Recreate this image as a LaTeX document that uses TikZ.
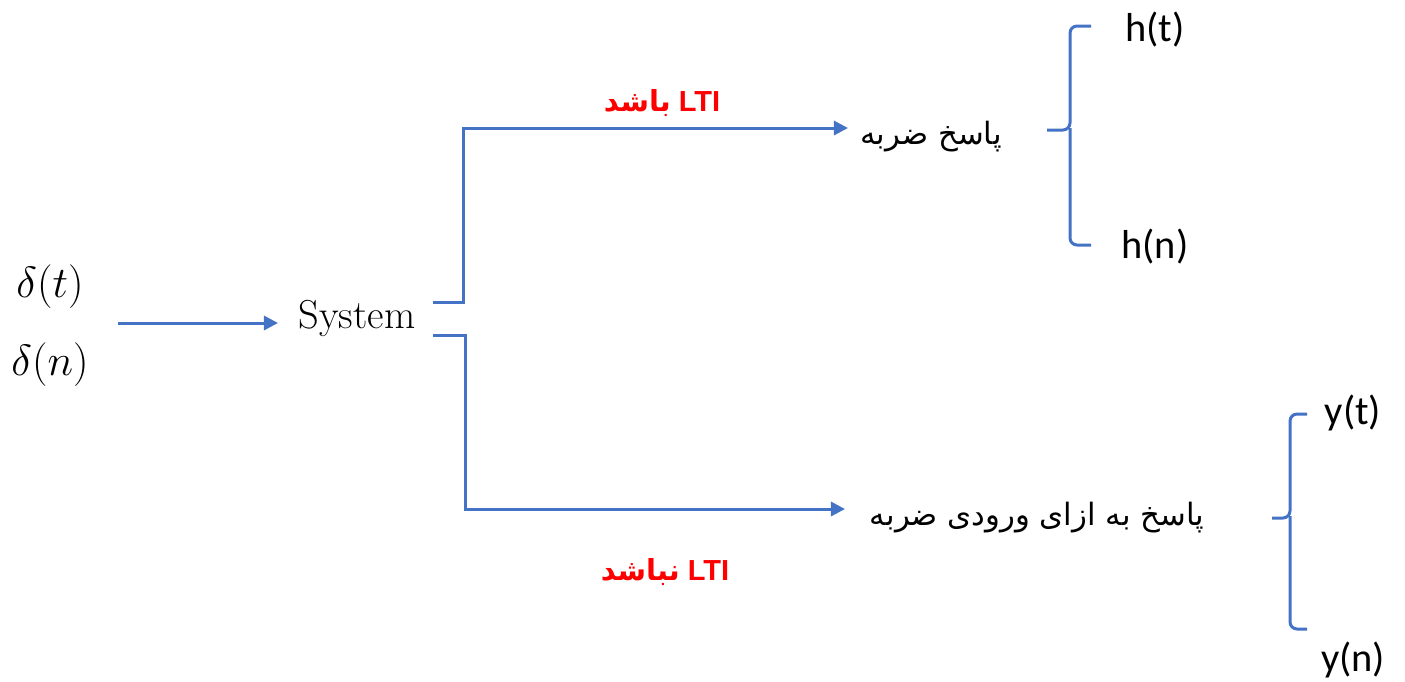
\documentclass[tikz,border=0pt]{standalone}
\usepackage{fontspec}
\usetikzlibrary{arrows.meta}
\TeXXeTstate=1
\newfontfamily\arabicfont[Script=Arabic]{DejaVu Sans}
\newfontfamily\calfont{Carlito}
\newfontfamily\arialfont{Liberation Sans}
\definecolor{lineblue}{HTML}{4472C4}
\definecolor{lblred}{HTML}{FF0000}
\tikzset{
  conn/.style={draw=lineblue, line width=1.7pt},
  arr/.style={conn, -{Triangle[length=8pt,width=8pt]}},
  brace/.style={draw=lineblue, line width=1.7pt, rounded corners=4},
  mathlbl/.style={font=\fontsize{25}{29}\selectfont, inner sep=0pt},
  syslbl/.style={font=\fontsize{23}{27}\selectfont, inner sep=0pt},
  arlbl/.style={font=\arabicfont\fontsize{17.5}{21}\selectfont, inner sep=0pt},
  redlbl/.style={text=lblred, font=\bfseries\fontsize{16.5}{20}\selectfont, inner sep=0pt},
  outlbl/.style={font=\calfont\fontsize{23}{27}\selectfont, inner sep=0pt}
}
\begin{document}
\begin{tikzpicture}[x=0.02cm,y=-0.02cm]
\useasboundingbox (0,0) rectangle (1405,681);
% texts
\node[mathlbl] (dt) at (50,287) {$\delta(t)$};
\node[mathlbl] (dn) at (50,365) {$\delta(n)$};
\node[syslbl] (sys) at (357,318) {System};
\node[redlbl] (lti1) at (662,103) {\beginR\beginL\arialfont\bfseries LTI\endL{} \arabicfont\bfseries باشد\endR};
\node[redlbl] (lti2) at (665,572) {\beginR\beginL\arialfont\bfseries LTI\endL{} \arabicfont\bfseries نباشد\endR};
\node[arlbl] (r1) at (931,137) {\beginR پاسخ ضربه\endR};
\node[arlbl] (r2) at (1037,518) {\beginR پاسخ به ازای ورودی ضربه\endR};
\node[outlbl] (ht) at (1155,30) {h(t)};
\node[outlbl] (hn) at (1155,247) {h(n)};
\node[outlbl] (yt) at (1353,413) {y(t)};
\node[outlbl] (yn) at (1353,660) {y(n)};
% connector points
\coordinate (inS) at (118,323);
\coordinate (inE) at (278,323);
\coordinate (upS) at (433,302);
\coordinate (upC) at (463,302);
\coordinate (upE) at (848,128);
\coordinate (dnS) at (433,335);
\coordinate (dnC) at (465,335);
\coordinate (dnE) at (845,509);
\draw[arr] (inS) -- (inE);
\draw[arr] (upS) -- (upC) |- (upE);
\draw[arr] (dnS) -- (dnC) |- (dnE);
% braces
\draw[brace] (1091,26) -- (1070,26) -- (1070,130) -- (1047,130);
\draw[brace] (1070,128) -- (1070,245) -- (1091,245);
\draw[brace] (1307,414) -- (1290,414) -- (1290,518) -- (1272,518);
\draw[brace] (1290,516) -- (1290,629) -- (1307,629);
\end{tikzpicture}
\end{document}
